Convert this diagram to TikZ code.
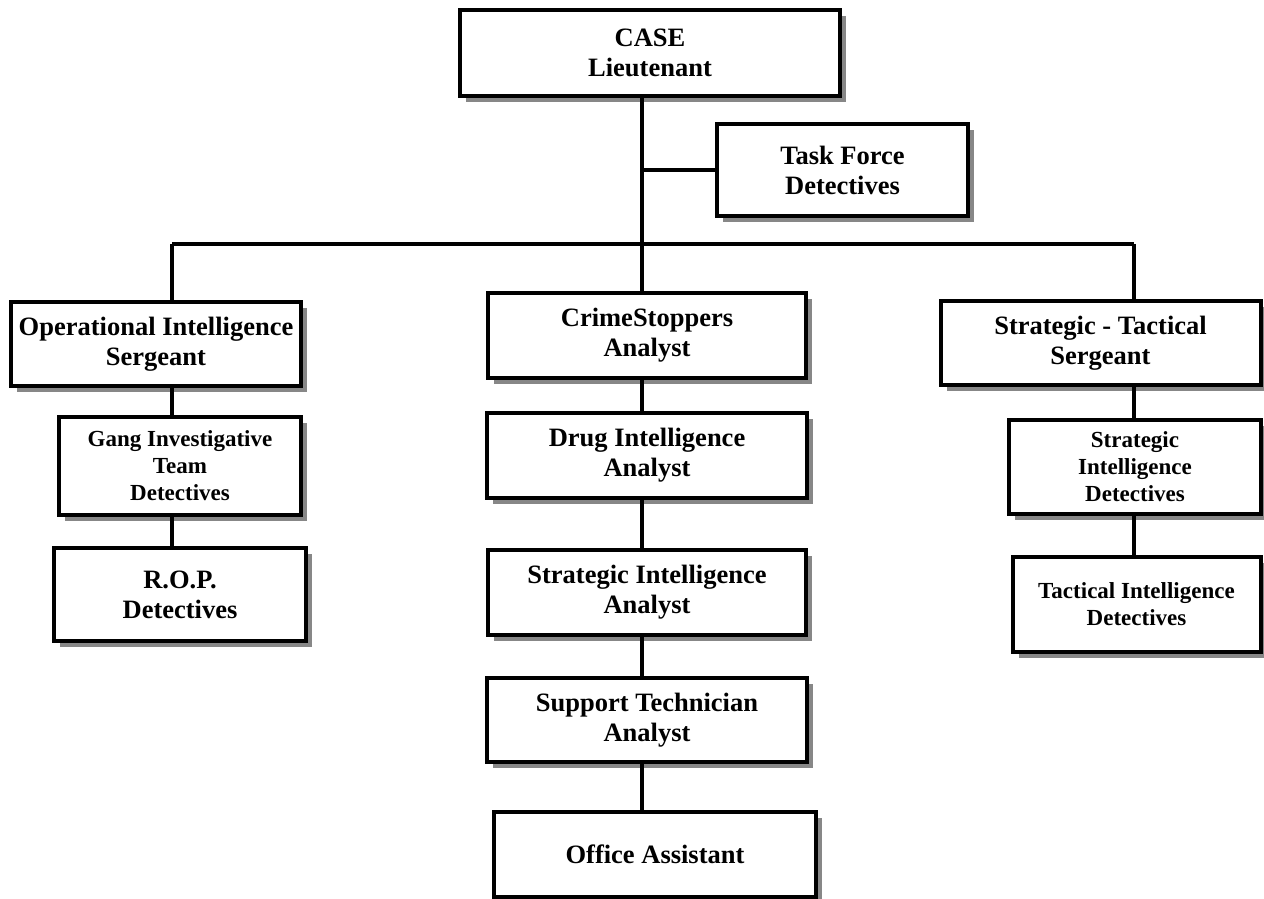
\documentclass[tikz,border=0pt]{standalone}
\usepackage{fontspec}
\setmainfont{Liberation Serif}
\usetikzlibrary{positioning,shadows}

\begin{document}
\begin{tikzpicture}[
    x=1pt, y=-1pt,
    unit/.style={rectangle, draw, line width=4pt, fill=white, align=center, inner sep=0pt,
        font=\bfseries\fontsize{26.5}{30}\selectfont,
        drop shadow={shadow xshift=6pt, shadow yshift=-6pt, fill=black!47, opacity=1}},
    small/.style={font=\bfseries\fontsize{23}{27}\selectfont},
    link/.style={line width=4pt}
]
    \useasboundingbox (0,0) rectangle (1264,899);

    % top
    \node[unit, minimum width=380pt, minimum height=86pt] (case) at (650,53) {CASE\\Lieutenant};
    \node[unit, minimum width=251pt, minimum height=92pt] (task) at (842.5,170) {Task Force\\Detectives};

    % center column
    \node[unit, minimum width=318pt, minimum height=85pt] (crime) at (647,335.5) {CrimeStoppers\\Analyst};
    \node[unit, minimum width=320pt, minimum height=85pt, below=31pt of crime] (drug) {Drug Intelligence\\Analyst};
    \node[unit, minimum width=318pt, minimum height=85pt, below=48pt of drug] (sia) {Strategic Intelligence\\Analyst};
    \node[unit, minimum width=320pt, minimum height=84pt, below=39pt of sia] (support) {Support Technician\\Analyst};
    \node[unit, minimum width=322pt, minimum height=85pt, below=46pt of support, xshift=8pt] (office) {Office Assistant};

    % left column
    \node[unit, minimum width=290pt, minimum height=84pt] (ops) at (156,344) {Operational Intelligence\\Sergeant};
    \node[unit, small, minimum width=242pt, minimum height=98pt, below=27pt of ops, xshift=24pt] (gang) {Gang Investigative\\Team\\Detectives};
    \node[unit, minimum width=252pt, minimum height=93pt, below=29pt of gang] (rop) {R.O.P.\\Detectives};

    % right column
    \node[unit, minimum width=320pt, minimum height=84pt] (stt) at (1100.5,343) {Strategic - Tactical\\Sergeant};
    \node[unit, small, minimum width=252pt, minimum height=94pt, below=31pt of stt, xshift=34.5pt] (sid) {Strategic\\Intelligence\\Detectives};
    \node[unit, small, minimum width=248pt, minimum height=95pt, below=39pt of sid, xshift=1.5pt] (tid) {Tactical Intelligence\\Detectives};

    \coordinate (spine) at (642,244);
    \coordinate (lbus) at (172,244);
    \coordinate (rbus) at (1134,244);

    \draw[link] (case.south -| spine) -- (crime.north -| spine);
    \draw[link] (task.west) -- (task.west -| spine);
    \draw[link] (lbus) -- (rbus);
    \draw[link] (lbus) -- (ops.north -| lbus);
    \draw[link] (rbus) -- (stt.north -| rbus);

    \draw[link] (ops.south -| lbus) -- (gang.north -| lbus);
    \draw[link] (gang.south -| lbus) -- (rop.north -| lbus);

    \draw[link] (crime.south -| spine) -- (drug.north -| spine);
    \draw[link] (drug.south -| spine) -- (sia.north -| spine);
    \draw[link] (sia.south -| spine) -- (support.north -| spine);
    \draw[link] (support.south -| spine) -- (office.north -| spine);

    \draw[link] (stt.south -| rbus) -- (sid.north -| rbus);
    \draw[link] (sid.south -| rbus) -- (tid.north -| rbus);
\end{tikzpicture}
\end{document}
